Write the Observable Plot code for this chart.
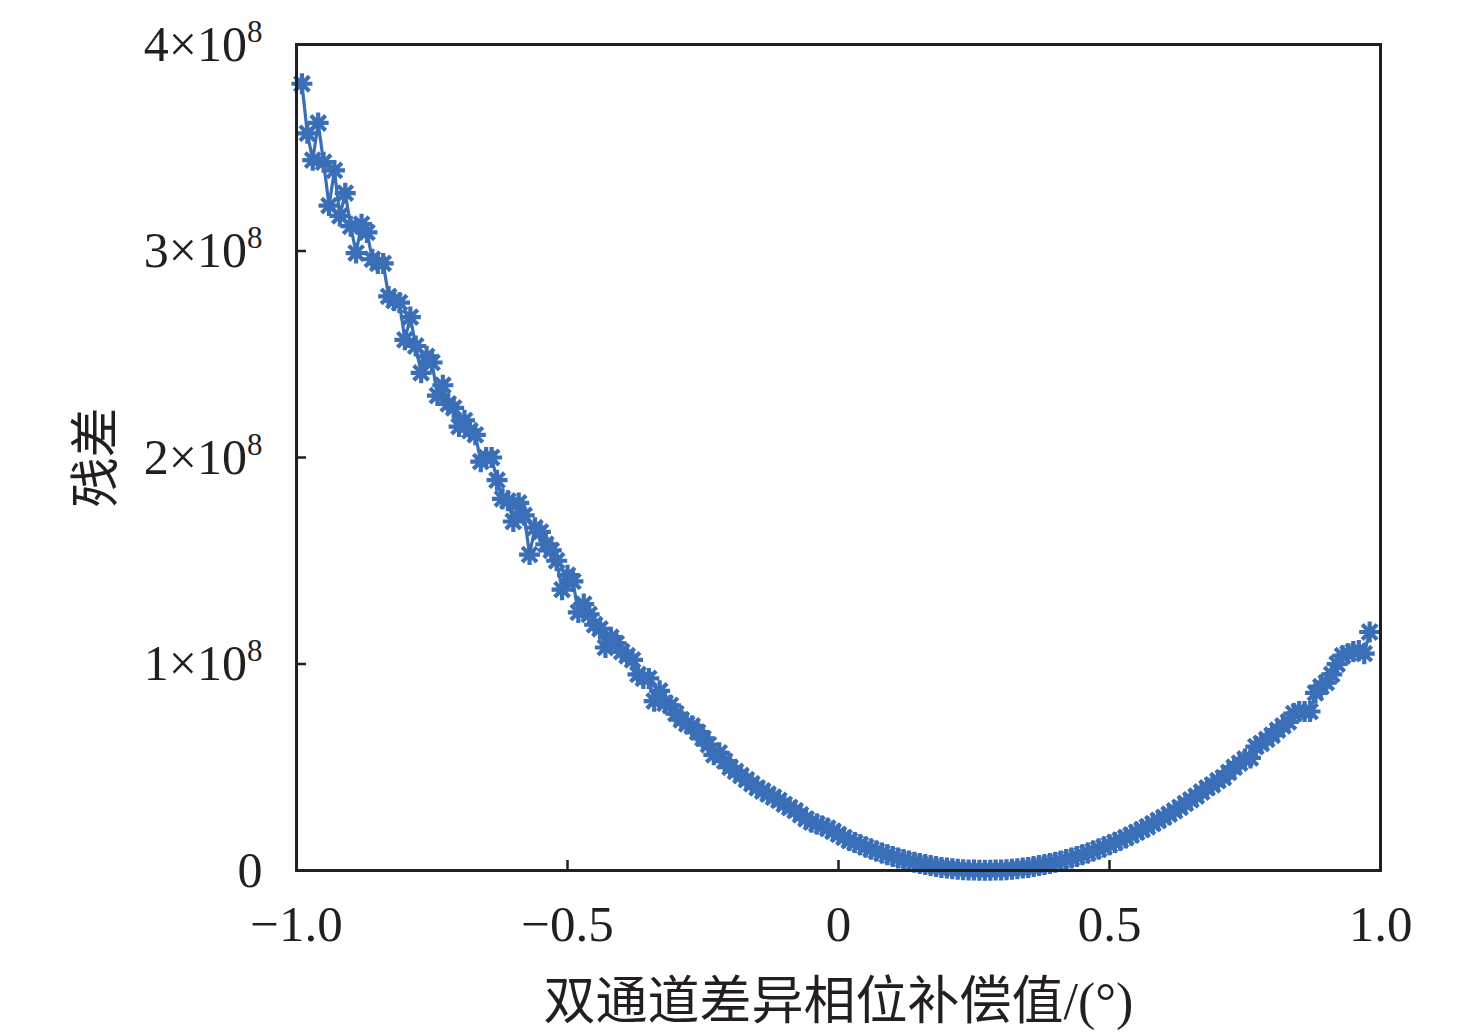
<!DOCTYPE html>
<html>
<head>
<meta charset="utf-8">
<script src="https://cdn.jsdelivr.net/npm/d3@7"></script>
<script src="https://cdn.jsdelivr.net/npm/@observablehq/plot@0.6"></script>
<style>
  html, body { margin: 0; padding: 0; background: #fff; }
  #chart svg { display: block; }
</style>
</head>
<body>
<div id="chart"></div>
<script>
// Phase compensation value (degrees)
const phase = [
  -0.99,-0.98,-0.97,-0.96,-0.95,-0.94,-0.93,-0.92,-0.91,-0.90,
  -0.89,-0.88,-0.87,-0.86,-0.85,-0.84,-0.83,-0.82,-0.81,-0.80,
  -0.79,-0.78,-0.77,-0.76,-0.75,-0.74,-0.73,-0.72,-0.71,-0.70,
  -0.69,-0.68,-0.67,-0.66,-0.65,-0.64,-0.63,-0.62,-0.61,-0.60,
  -0.59,-0.58,-0.57,-0.56,-0.55,-0.54,-0.53,-0.52,-0.51,-0.50,
  -0.49,-0.48,-0.47,-0.46,-0.45,-0.44,-0.43,-0.42,-0.41,-0.40,
  -0.39,-0.38,-0.37,-0.36,-0.35,-0.34,-0.33,-0.32,-0.31,-0.30,
  -0.29,-0.28,-0.27,-0.26,-0.25,-0.24,-0.23,-0.22,-0.21,-0.20,
  -0.19,-0.18,-0.17,-0.16,-0.15,-0.14,-0.13,-0.12,-0.11,-0.10,
  -0.09,-0.08,-0.07,-0.06,-0.05,-0.04,-0.03,-0.02,-0.01,0.00,
  0.01,0.02,0.03,0.04,0.05,0.06,0.07,0.08,0.09,0.10,
  0.11,0.12,0.13,0.14,0.15,0.16,0.17,0.18,0.19,0.20,
  0.21,0.22,0.23,0.24,0.25,0.26,0.27,0.28,0.29,0.30,
  0.31,0.32,0.33,0.34,0.35,0.36,0.37,0.38,0.39,0.40,
  0.41,0.42,0.43,0.44,0.45,0.46,0.47,0.48,0.49,0.50,
  0.51,0.52,0.53,0.54,0.55,0.56,0.57,0.58,0.59,0.60,
  0.61,0.62,0.63,0.64,0.65,0.66,0.67,0.68,0.69,0.70,
  0.71,0.72,0.73,0.74,0.75,0.76,0.77,0.78,0.79,0.80,
  0.81,0.82,0.83,0.84,0.85,0.86,0.87,0.88,0.89,0.90,
  0.91,0.92,0.93,0.94,0.95,0.96,0.97,0.98
];
// Residual, in units of 1e8
const residual = [
  3.81,3.57,3.44,3.62,3.43,3.22,3.39,3.17,3.28,3.12,
  2.99,3.13,3.09,2.96,2.94,2.94,2.78,2.76,2.75,2.57,
  2.68,2.54,2.41,2.49,2.46,2.30,2.35,2.26,2.24,2.15,
  2.18,2.13,2.11,1.98,2.00,2.00,1.89,1.80,1.79,1.69,
  1.78,1.72,1.53,1.66,1.64,1.58,1.55,1.50,1.36,1.43,
  1.40,1.25,1.29,1.24,1.19,1.17,1.08,1.13,1.10,1.06,
  1.04,1.02,0.95,0.93,0.93,0.82,0.87,0.81,0.80,0.76,
  0.73,0.71,0.70,0.67,0.64,0.61,0.56,0.57,0.53,0.50,
  0.48,0.46,0.44,0.42,0.40,0.385,0.37,0.355,0.34,0.32,
  0.305,0.29,0.27,0.25,0.235,0.225,0.215,0.205,0.19,0.175,
  0.16,0.145,0.135,0.125,0.114,0.104,0.094,0.085,0.076,0.068,
  0.060,0.053,0.046,0.040,0.034,0.029,0.024,0.019,0.015,0.012,
  0.009,0.006,0.004,0.003,0.002,0.001,0.001,0.001,0.002,0.003,
  0.004,0.006,0.009,0.012,0.015,0.019,0.024,0.029,0.034,0.040,
  0.046,0.053,0.060,0.068,0.076,0.085,0.094,0.104,0.114,0.125,
  0.136,0.147,0.159,0.172,0.185,0.198,0.212,0.227,0.242,0.257,
  0.273,0.289,0.306,0.325,0.342,0.36,0.38,0.40,0.415,0.435,
  0.45,0.475,0.50,0.52,0.54,0.545,0.60,0.615,0.635,0.655,
  0.68,0.70,0.72,0.76,0.77,0.77,0.77,0.86,0.89,0.91,
  0.95,1.00,1.04,1.05,1.06,1.065,1.05,1.155
];
const xTicks = [-1, -0.5, 0, 0.5, 1];
const yTicks = [0, 1, 2, 3, 4];
const xTitle = "双通道差异相位补偿值/(°)";
const yTitle = "残差";

const data = phase.map((p, i) => ({p, r: residual[i]}));

const blue = "#3a6fb8";
const ink = "#231f20";
const serif = "'Liberation Serif', 'Times New Roman', serif";
const cjk = "'Liberation Serif', 'Noto Sans CJK SC', serif";

// 8-armed asterisk marker
const star8 = {
  draw(ctx, size) {
    const r = Math.sqrt(size / Math.PI);
    for (let k = 0; k < 4; k++) {
      const a = k * Math.PI / 4;
      const dx = r * Math.cos(a), dy = r * Math.sin(a);
      ctx.moveTo(-dx, -dy);
      ctx.lineTo(dx, dy);
    }
  }
};

const fmtX = d => d === 0 ? "0" : (d < 0 ? "\u2212" : "") + Math.abs(d).toFixed(1);
const fmtY = d => d === 0 ? "0" : `${d}×10^8`;

const chart = Plot.plot({
  width: 1476,
  height: 1036,
  marginLeft: 296,
  marginRight: 96,
  marginTop: 44,
  marginBottom: 166,
  style: {fontFamily: serif, background: "#fff"},
  x: {domain: [-1, 1]},
  y: {domain: [0, 4]},
  marks: [
    Plot.axisX(xTicks, {
      tickSize: -10, tickPadding: 44, tickFormat: fmtX, fontSize: 51,
      stroke: ink, strokeWidth: 2.5, fill: ink, label: null
    }),
    Plot.axisY(yTicks, {
      tickSize: -10, tickPadding: 44, tickFormat: fmtY, fontSize: 50,
      stroke: ink, strokeWidth: 2.5, fill: ink, label: null
    }),
    Plot.line(data, {x: "p", y: "r", stroke: blue, strokeWidth: 3.2}),
    Plot.dot(data, {x: "p", y: "r", symbol: star8, r: 10.5, stroke: blue, strokeWidth: 4.2}),
    Plot.frame({stroke: ink, strokeWidth: 3}),
    Plot.text([xTitle], {frameAnchor: "bottom", dy: 132, lineAnchor: "middle",
      fontSize: 52, fontFamily: cjk, fill: ink}),
    Plot.text([yTitle], {frameAnchor: "left", dx: -200, rotate: -90, lineAnchor: "middle",
      textAnchor: "middle",
      fontSize: 50, fontFamily: "'Noto Sans CJK SC', sans-serif", fill: ink})
  ]
});

// superscript exponents on y tick labels
d3.select(chart).selectAll('g[aria-label="y-axis tick label"] text').each(function() {
  const t = this.textContent;
  if (t.includes("^")) {
    const [base, exp] = t.split("^");
    const sel = d3.select(this);
    sel.text(null);
    sel.append("tspan").text(base);
    sel.append("tspan").attr("dy", "-19").attr("font-size", 31).text(exp);
  }
});

document.getElementById("chart").appendChild(chart);
</script>
</body>
</html>
